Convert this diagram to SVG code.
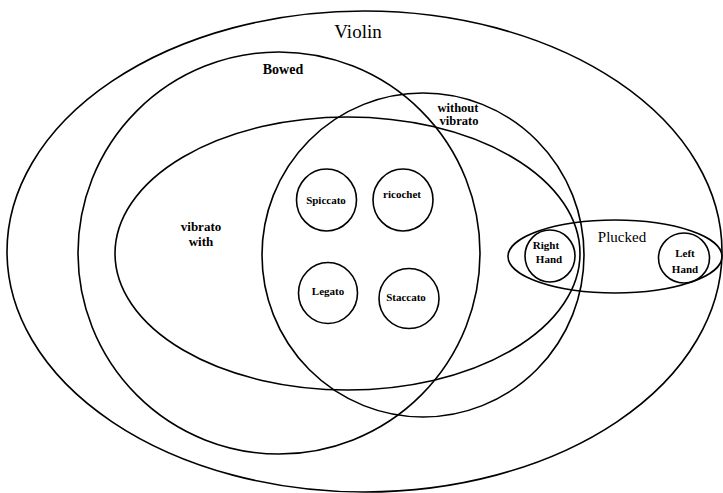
<svg xmlns="http://www.w3.org/2000/svg" width="723" height="493" viewBox="0 0 723 493">
<style>
.set{fill:none;stroke:#000;stroke-width:1.6}
.big{font-family:"Liberation Serif","Times New Roman",serif;font-size:19px;fill:#000;text-anchor:middle}
.mid{font-family:"Liberation Serif","Times New Roman",serif;font-size:15px;fill:#000;text-anchor:middle}
.lbl{font-family:"Liberation Serif","Times New Roman",serif;font-size:13px;fill:#000;text-anchor:middle}
.sm{font-family:"Liberation Serif","Times New Roman",serif;font-size:11px;font-weight:bold;fill:#000;text-anchor:middle}
</style>
<rect width="723" height="493" fill="#fff"/>
<g id="violin">
<ellipse class="set" cx="364.5" cy="251.5" rx="357.5" ry="240.5"/>
<text class="big" x="358" y="38">Violin</text>
</g>
<g id="bowed">
<ellipse class="set" cx="279" cy="253" rx="201" ry="201"/>
<text class="lbl" x="283" y="74" style="font-size:14px;font-weight:bold">Bowed</text>
</g>
<g id="without-vibrato">
<ellipse class="set" cx="423" cy="255" rx="161" ry="162"/>
<text class="lbl" x="458" y="112" style="font-size:12.5px;font-weight:bold">without</text>
<text class="lbl" x="459" y="125" style="font-size:12.5px;font-weight:bold">vibrato</text>
</g>
<g id="with-vibrato">
<ellipse class="set" cx="347.5" cy="253.5" rx="232.5" ry="136.5"/>
<text class="lbl" x="201" y="231" style="font-weight:bold">vibrato</text>
<text class="lbl" x="201" y="246" style="font-weight:bold">with</text>
</g>
<g id="spiccato">
<ellipse class="set" cx="326.5" cy="200" rx="30" ry="31"/>
<text class="sm" x="326" y="204">Spiccato</text>
</g>
<g id="ricochet">
<ellipse class="set" cx="403" cy="200" rx="30" ry="31"/>
<text class="sm" x="402" y="198">ricochet</text>
</g>
<g id="legato">
<ellipse class="set" cx="328" cy="293" rx="29.5" ry="30.5"/>
<text class="sm" x="328" y="295">Legato</text>
</g>
<g id="staccato">
<ellipse class="set" cx="409" cy="298.5" rx="30" ry="30"/>
<text class="sm" x="406" y="301">Staccato</text>
</g>
<g id="plucked">
<ellipse class="set" cx="615" cy="256.5" rx="107" ry="36.5"/>
<text class="mid" x="622" y="242">Plucked</text>
</g>
<g id="right-hand">
<ellipse class="set" cx="550" cy="256" rx="25" ry="26"/>
<text class="sm" x="546" y="249">Right</text>
<text class="sm" x="549" y="263">Hand</text>
</g>
<g id="left-hand">
<ellipse class="set" cx="684" cy="258" rx="25.5" ry="25"/>
<text class="sm" x="685" y="257">Left</text>
<text class="sm" x="685" y="273">Hand</text>
</g>
</svg>
